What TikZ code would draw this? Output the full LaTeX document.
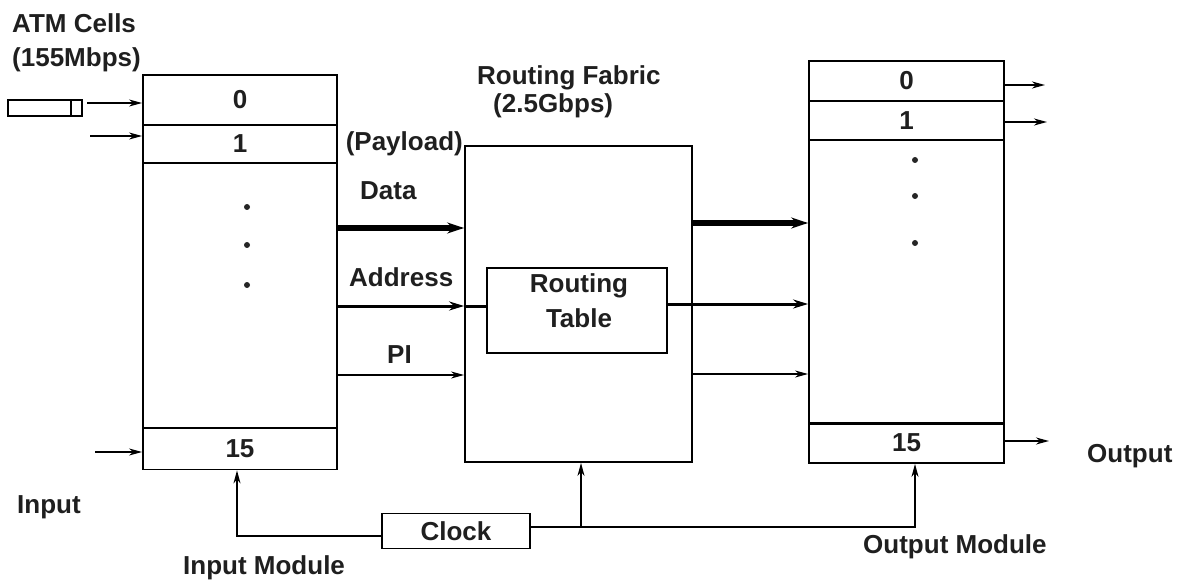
\documentclass[tikz,border=0pt]{standalone}
\usepackage{fontspec}
\setmainfont{Liberation Sans}
\usetikzlibrary{arrows.meta,calc}
\begin{document}
\begin{tikzpicture}[x=1pt,y=-1pt,
  lbl/.style={font=\fontsize{26}{28}\selectfont\bfseries, text=black!88, inner sep=0pt},
  box/.style={draw, line width=1.8pt, inner sep=0pt, font=\fontsize{26}{28}\selectfont\bfseries, text=black!88},
  inrow/.style={box, minimum width=194pt},
  outrow/.style={box, minimum width=195pt},
  thin/.style={line width=1.5pt, -{Stealth[length=13pt,width=7pt,inset=4pt]}},
  medium/.style={line width=3pt, -{Stealth[length=15pt,width=9pt,inset=5pt]}},
  heavy/.style={line width=5.5pt, -{Stealth[length=17pt,width=11pt,inset=6pt]}},
  dot/.style={circle, fill=black!85, inner sep=0pt, minimum size=6pt}
]
\useasboundingbox (0,0) rectangle (1178,580);

% input module: slots 0, 1, ..., 15
\node[inrow, minimum height=50pt]  (in0)  at (240,100)   {0};
\node[inrow, minimum height=38pt]  (in1)  at (240,144)   {1};
\node[inrow, minimum height=265pt] (inm)  at (240,295.5) {};
\node[inrow, minimum height=41pt]  (in15) at (240,449)   {15};
\node[dot] (ind1) at (247,207) {};
\node[dot] (ind2) at (247,245) {};
\node[dot] (ind3) at (247,285) {};

% routing fabric with its routing table
\node[box, minimum width=227pt, minimum height=316pt] (fab) at (578.5,304) {};
\node[box, minimum width=180pt, minimum height=85pt] (rt) at (577,310.5) {};
\node[lbl, align=center, font=\fontsize{26}{35}\selectfont\bfseries] (rtt) at (579,301) {Routing\\Table};

% output module: slots 0, 1, ..., 15
\node[outrow, minimum height=40pt]  (out0)  at (906.5,81)  {0};
\node[outrow, minimum height=39pt]  (out1)  at (906.5,120.5) {1};
\node[outrow, minimum height=284pt] (outm)  at (906.5,282) {};
\node[outrow, minimum height=40pt]  (out15) at (906.5,443) {15};
\node[dot] (outd1) at (915,160) {};
\node[dot] (outd2) at (915,196) {};
\node[dot] (outd3) at (915,243) {};

% clock
\node[box, minimum width=148pt, minimum height=35pt] (clk) at (456,531) {Clock};

% ATM cell icon with its header part
\node[draw, line width=1.5pt, minimum width=74pt, minimum height=16pt, inner sep=0pt] (atm) at (45,108) {};
\draw[line width=1.5pt] ($(atm.north east)+(-12,0)$) -- ($(atm.south east)+(-12,0)$);

% incoming links
\coordinate (i0) at (87,103);
\coordinate (i1) at (90,136);
\coordinate (i15) at (95,452);
\draw[thin] (i0) -- (i0 -| in0.west);
\draw[thin] (i1) -- (i1 -| in1.west);
\draw[thin] (i15) -- (i15 -| in15.west);

% input module to fabric
\coordinate (dl) at (0,228);
\coordinate (al) at (0,306);
\coordinate (pl) at (0,375);
\draw[heavy] (dl -| inm.east) -- (dl -| fab.west);
\draw[medium] (al -| inm.east) -- (al -| fab.west);
\draw[line width=3pt] (al -| fab.west) -- (al -| rt.west);
\draw[thin] (pl -| inm.east) -- (pl -| fab.west);

% fabric to output module
\coordinate (dr) at (0,223);
\coordinate (ar) at (0,304);
\coordinate (pr) at (0,374);
\draw[heavy] (dr -| fab.east) -- (dr -| outm.west);
\draw[medium] (ar -| rt.east) -- (ar -| outm.west);
\draw[thin] (pr -| fab.east) -- (pr -| outm.west);

% outgoing links
\coordinate (o0) at (1045,85);
\coordinate (o1) at (1047,122);
\coordinate (o15) at (1049,441);
\draw[thin] (o0 -| out0.east) -- (o0);
\draw[thin] (o1 -| out1.east) -- (o1);
\draw[thin] (o15 -| out15.east) -- (o15);

% clock distribution
\draw[thin] ([yshift=-5pt]clk.west) -| ([xshift=-3pt]in15.south);
\draw[thin] ([yshift=4pt]clk.east) -| ([xshift=8.5pt]out15.south);
\coordinate (cf) at (581,527);
\draw[thin] (cf) -- (cf |- fab.south);

% labels
\node[lbl, anchor=base west] (t1) at (12,33) {ATM Cells};
\node[lbl, anchor=base west] (t2) at (12,67) {(155Mbps)};
\node[lbl, anchor=base west] (t3) at (477,85) {Routing Fabric};
\node[lbl, anchor=base west] (t4) at (493,113) {(2.5Gbps)};
\node[lbl, anchor=base east] (t5) at (463,151) {(Payload)};
\node[lbl, anchor=base west] (t6) at (360,200) {Data};
\node[lbl, anchor=base west] (t7) at (349,286) {Address};
\node[lbl, anchor=base west] (t8) at (387,363) {PI};
\node[lbl, anchor=base west] (t9) at (17,513) {Input};
\node[lbl, anchor=base west] (t10) at (183,574) {Input Module};
\node[lbl, anchor=base west] (t11) at (1087,462) {Output};
\node[lbl, anchor=base west] (t12) at (863,553) {Output Module};
\end{tikzpicture}
\end{document}
